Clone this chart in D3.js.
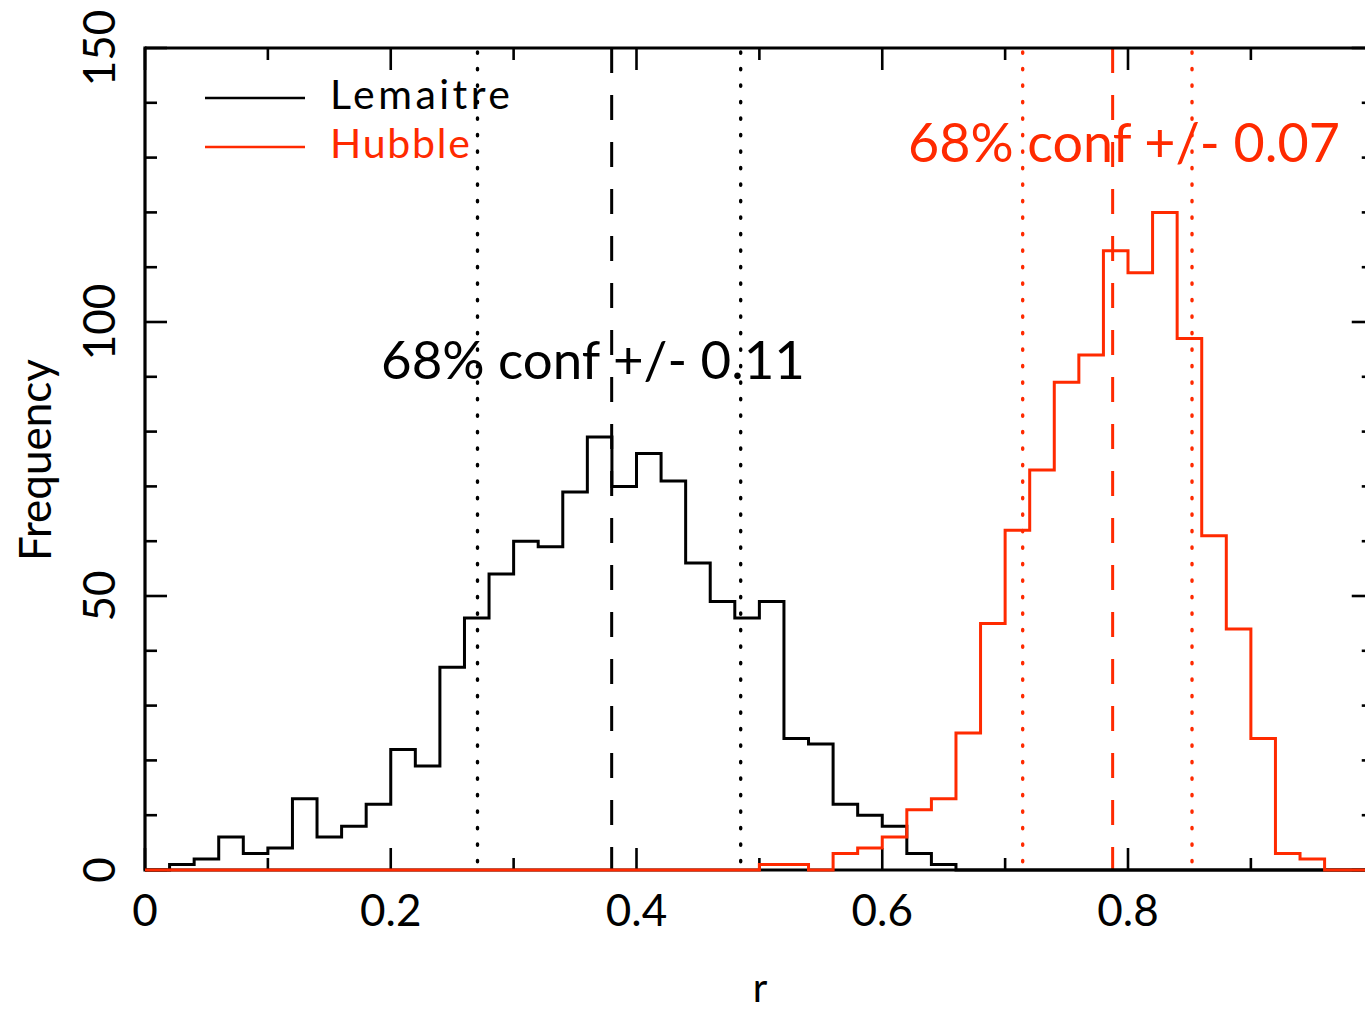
<!DOCTYPE html>
<html>
<head>
<meta charset="utf-8">
<script src="https://cdn.jsdelivr.net/npm/d3@7"></script>
<style>
  html, body { margin: 0; padding: 0; background: #fff; }
  svg { display: block; }
  text { font-family: Lato, "Noto Sans", sans-serif; }
</style>
</head>
<body>
<svg id="chart" width="1365" height="1013"></svg>
<script>
// ---- data ----
const binStart = 0.0;
const binWidth = 0.02;
const lemaitre = [0,1,2,6,3,4,13,6,8,12,22,19,37,46,54,60,59,69,79,70,76,71,56,49,46,49,24,23,12,10,8,3,1,0,0,0,0,0,0,0,0,0,0,0,0,0,0,0,0,0];
const hubble   = [0,0,0,0,0,0,0,0,0,0,0,0,0,0,0,0,0,0,0,0,0,0,0,0,0,1,1,0,3,4,6,11,13,25,45,62,73,89,94,113,109,120,97,61,44,24,3,2,0,0];
const lemaitreConf = [0.2706, 0.3798, 0.4848]; // lower, median, upper
const hubbleConf   = [0.7143, 0.7875, 0.8521];
const xTicksMajor = [0, 0.2, 0.4, 0.6, 0.8];
const xTickLabels = ["0", "0.2", "0.4", "0.6", "0.8"];
const xTicksMinor = [0.1, 0.3, 0.5, 0.7, 0.9];
const yTicksMajor = [0, 50, 100, 150];
const yTickLabels = ["0", "50", "100", "150"];
const yTicksMinor = [10,20,30,40,60,70,80,90,110,120,130,140];
const seriesNames = ["Lemaitre", "Hubble"];
const annotations = ["68% conf +/- 0.11", "68% conf +/- 0.07"];

const RED = "#ff2a00";
const svg = d3.select("#chart");

const x = d3.scaleLinear().domain([0, 1]).range([145, 1373.75]);
const y = d3.scaleLinear().domain([0, 150]).range([870, 48]);

function stepPoints(vals) {
  const pts = [];
  vals.forEach((v, i) => {
    const x0 = binStart + i * binWidth, x1 = x0 + binWidth;
    pts.push([x(x0), y(v)], [x(x1), y(v)]);
  });
  return pts;
}
const line = d3.line();

// confidence lines
function confLines(conf, color) {
  const g = svg.append("g");
  [conf[0], conf[2]].forEach(c => {
    g.append("line").attr("x1", x(c)).attr("x2", x(c)).attr("y1", y(150) + 4).attr("y2", y(0))
      .attr("stroke", color).attr("stroke-width", 3.4)
      .attr("stroke-dasharray", "1.2 15.3").attr("stroke-linecap", "round");
  });
  g.append("line").attr("x1", x(conf[1])).attr("x2", x(conf[1])).attr("y1", y(150)).attr("y2", y(0))
    .attr("stroke", color).attr("stroke-width", 3)
    .attr("stroke-dasharray", "25 22");
}
confLines(lemaitreConf, "#000");
confLines(hubbleConf, RED);

// histograms
svg.append("path").attr("d", line(stepPoints(lemaitre)))
  .attr("fill", "none").attr("stroke", "#000").attr("stroke-width", 3);

// frame
const frame = svg.append("g").attr("stroke", "#000").attr("stroke-width", 3.2);
frame.append("line").attr("x1", x(0)).attr("x2", x(0)).attr("y1", y(150) - 1.5).attr("y2", y(0) + 1.5);
frame.append("line").attr("x1", x(0)).attr("x2", x(1)).attr("y1", y(150)).attr("y2", y(150));
frame.append("line").attr("x1", x(1)).attr("x2", x(1)).attr("y1", y(150)).attr("y2", y(0));
frame.append("line").attr("x1", x(0)).attr("x2", x(1)).attr("y1", y(0)).attr("y2", y(0));

const tk = svg.append("g").attr("stroke", "#000").attr("stroke-width", 2.6);
const MAJ = 22, MIN = 12;
xTicksMajor.concat([1]).forEach(t => {
  tk.append("line").attr("x1", x(t)).attr("x2", x(t)).attr("y1", y(0)).attr("y2", y(0) - MAJ);
  tk.append("line").attr("x1", x(t)).attr("x2", x(t)).attr("y1", y(150)).attr("y2", y(150) + MAJ);
});
xTicksMinor.forEach(t => {
  tk.append("line").attr("x1", x(t)).attr("x2", x(t)).attr("y1", y(0)).attr("y2", y(0) - MIN);
  tk.append("line").attr("x1", x(t)).attr("x2", x(t)).attr("y1", y(150)).attr("y2", y(150) + MIN);
});
yTicksMajor.forEach(t => {
  tk.append("line").attr("x1", x(0)).attr("x2", x(0) + MAJ).attr("y1", y(t)).attr("y2", y(t));
  tk.append("line").attr("x1", x(1)).attr("x2", x(1) - MAJ).attr("y1", y(t)).attr("y2", y(t));
});
yTicksMinor.forEach(t => {
  tk.append("line").attr("x1", x(0)).attr("x2", x(0) + MIN).attr("y1", y(t)).attr("y2", y(t));
  tk.append("line").attr("x1", x(1)).attr("x2", x(1) - MIN).attr("y1", y(t)).attr("y2", y(t));
});

// red histogram on top of everything (covers the zero baseline)
svg.append("path").attr("d", line(stepPoints(hubble)))
  .attr("fill", "none").attr("stroke", RED).attr("stroke-width", 3);

// tick labels
xTicksMajor.forEach((t, i) => {
  svg.append("text").attr("x", x(t)).attr("y", 926).attr("text-anchor", "middle")
    .attr("font-size", 44).text(xTickLabels[i]);
});
yTicksMajor.forEach((t, i) => {
  svg.append("text").attr("transform", `translate(115,${y(t)}) rotate(-90)`)
    .attr("text-anchor", "middle").attr("font-size", 44).text(yTickLabels[i]);
});

// axis titles
svg.append("text").attr("x", 760).attr("y", 1002).attr("text-anchor", "middle")
  .attr("font-size", 40).text("r");
svg.append("text").attr("transform", "translate(51,460) rotate(-90)")
  .attr("text-anchor", "middle").attr("font-size", 44).text("Frequency");

// legend
const legColors = ["#000", RED];
const legWidths = [180, 140];
seriesNames.forEach((n, i) => {
  const ly = 98 + i * 49;
  svg.append("line").attr("x1", 205).attr("x2", 305).attr("y1", ly).attr("y2", ly)
    .attr("stroke", legColors[i]).attr("stroke-width", 2.4);
  svg.append("text").attr("x", 330).attr("y", ly + 11).attr("font-size", 41)
    .attr("textLength", legWidths[i]).attr("lengthAdjust", "spacing")
    .attr("fill", legColors[i]).text(n);
});

// annotations: size fitted to the reference widths
function fitText(tx, ty, width, color, str) {
  const t = svg.append("text").attr("x", tx).attr("y", ty).attr("font-size", 100)
    .attr("fill", color).text(str);
  const w = t.node().getComputedTextLength();
  t.attr("font-size", 100 * width / w);
}
fitText(381, 379, 424, "#000", annotations[0]);
fitText(908, 162, 432, RED, annotations[1]);
</script>
</body>
</html>
